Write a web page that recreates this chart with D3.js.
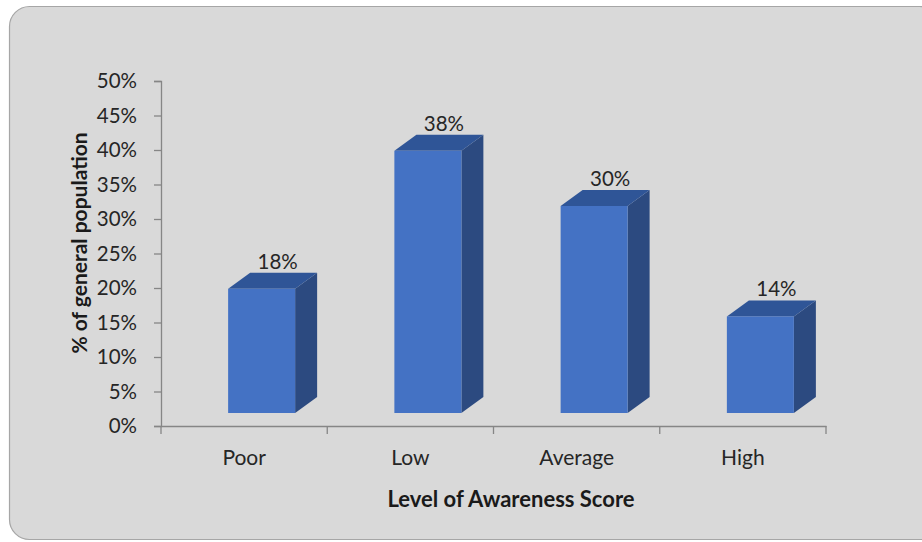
<!DOCTYPE html>
<html>
<head>
<meta charset="utf-8">
<script src="https://cdn.jsdelivr.net/npm/d3@7"></script>
<style>
  body { margin: 0; background: #fff; }
  svg { display: block; font-family: Lato, 'Liberation Sans', sans-serif; }
</style>
</head>
<body>
<svg width="922" height="542"></svg>
<script>
const categories = ['Poor', 'Low', 'Average', 'High'];
const values = [0.18, 0.38, 0.30, 0.14];
const valueLabels = ['18%', '38%', '30%', '14%'];
const yTicks = [0, 0.05, 0.1, 0.15, 0.2, 0.25, 0.3, 0.35, 0.4, 0.45, 0.5];

const svg = d3.select('svg');

// chart area background
svg.append('rect')
  .attr('x', 9.5).attr('y', 6.5)
  .attr('width', 930).attr('height', 533)
  .attr('rx', 20)
  .attr('fill', '#d9d9d9')
  .attr('stroke', '#a6a6a6')
  .attr('stroke-width', 1.2);

const x = d3.scaleBand()
  .domain(categories)
  .range([161, 826]);

const y = d3.scaleLinear()
  .domain([0, 0.5])
  .range([426, 81]);

const lift = 13;   // 3d floor offset
const dx = 22, dy = -16;
const barW = 67;

// y axis
const yAxis = svg.append('g')
  .attr('transform', 'translate(161,0)')
  .call(d3.axisLeft(y).tickValues(yTicks).tickFormat(d3.format('.0%')).tickSize(7).tickPadding(17));
yAxis.select('.domain').attr('stroke', '#868686').attr('stroke-width', 1.3);
yAxis.selectAll('.tick line').attr('stroke', '#868686').attr('stroke-width', 1.3);
yAxis.selectAll('.tick text')
  .attr('font-size', 20.5).attr('fill', '#262626')
  .attr('font-family', 'Lato, sans-serif');

// x axis
const xAxis = svg.append('g')
  .attr('transform', 'translate(0,426)')
  .call(d3.axisBottom(x).tickSize(0).tickPadding(24));
xAxis.select('.domain').attr('stroke', '#868686').attr('stroke-width', 1.3);
xAxis.selectAll('.tick text')
  .attr('font-size', 21).attr('fill', '#262626')
  .attr('font-family', 'Lato, sans-serif');

// category separator ticks
const edges = categories.map(c => x(c)).concat([x.range()[1]]);
svg.append('g').selectAll('line')
  .data(edges)
  .join('line')
  .attr('x1', d => d).attr('x2', d => d)
  .attr('y1', 426).attr('y2', 434)
  .attr('stroke', '#868686').attr('stroke-width', 1.3);

// 3d bars
const bars = svg.append('g').selectAll('g')
  .data(categories.map((c, i) => ({ c, v: values[i], label: valueLabels[i] })))
  .join('g');

const fx = d => x(d.c) + x.bandwidth() / 2 - 16;
const barTop = d => y(d.v) - lift;
const bot = y(0) - lift;

// side
bars.append('path')
  .attr('fill', '#2c4a80')
  .attr('d', d => `M${fx(d) + barW},${bot} L${fx(d) + barW + dx},${bot + dy} L${fx(d) + barW + dx},${barTop(d) + dy} L${fx(d) + barW},${barTop(d)} Z`);

// top
bars.append('path')
  .attr('fill', '#2f5597')
  .attr('d', d => `M${fx(d)},${barTop(d)} L${fx(d) + dx},${barTop(d) + dy} L${fx(d) + barW + dx},${barTop(d) + dy} L${fx(d) + barW},${barTop(d)} Z`);

// front
bars.append('rect')
  .attr('fill', '#4472c4')
  .attr('x', d => fx(d))
  .attr('y', d => barTop(d))
  .attr('width', barW)
  .attr('height', d => bot - barTop(d));

bars.append('text')
  .attr('x', d => fx(d) + barW / 2 + 16)
  .attr('y', d => barTop(d) + dy - 4)
  .attr('text-anchor', 'middle')
  .attr('font-size', 20.5)
  .attr('fill', '#262626')
  .text(d => d.label);

// axis titles
svg.append('text')
  .attr('x', 511).attr('y', 507)
  .attr('text-anchor', 'middle')
  .attr('font-size', 22).attr('font-weight', 'bold')
  .attr('fill', '#1a1a1a')
  .text('Level of Awareness Score');

svg.append('text')
  .attr('transform', 'translate(87,243) rotate(-90)')
  .attr('text-anchor', 'middle')
  .attr('font-size', 21).attr('font-weight', 'bold')
  .attr('fill', '#1a1a1a')
  .text('% of general population');
</script>
</body>
</html>
